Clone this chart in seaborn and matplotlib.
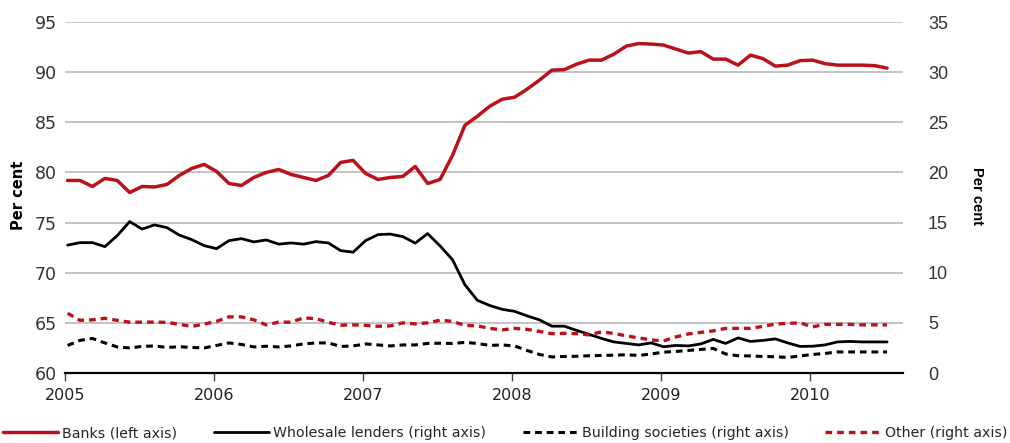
import numpy as np
import pandas as pd
import matplotlib
matplotlib.use("Agg")
import matplotlib.pyplot as plt
import seaborn as sns

# ---- data (monthly, Jan 2005 - Jul 2010) ----
years = [2005] * 12 + [2006] * 12 + [2007] * 12 + [2008] * 12 + [2009] * 12 + [2010] * 7
months = list(range(1, 13)) * 5 + list(range(1, 8))

banks = [79.2, 79.2, 78.6, 79.4, 79.2, 78.0, 78.6, 78.55, 78.8, 79.7, 80.4, 80.8, 80.1,
         78.9, 78.7, 79.5, 80.0, 80.3, 79.8, 79.5, 79.2, 79.7, 81.0, 81.2, 79.9,
         79.3, 79.5, 79.6, 80.6, 78.9, 79.3, 81.7, 84.7, 85.6, 86.6, 87.3, 87.5,
         88.3, 89.2, 90.2, 90.25, 90.8, 91.2, 91.2, 91.8, 92.6, 92.85, 92.8, 92.7,
         92.3, 91.9, 92.05, 91.3, 91.3, 90.7, 91.7, 91.35, 90.6, 90.7, 91.15, 91.2,
         90.85, 90.7, 90.7, 90.7, 90.65, 90.4]
wholesale = [12.75, 13.0, 13.0, 12.6, 13.7, 15.1, 14.35, 14.77, 14.5, 13.75, 13.3, 12.7, 12.4,
             13.2, 13.4, 13.07, 13.27, 12.85, 12.97, 12.85, 13.1, 12.97, 12.2, 12.05, 13.2,
             13.8, 13.85, 13.6, 12.95, 13.9, 12.67, 11.3, 8.8, 7.25, 6.73, 6.35, 6.15,
             5.7, 5.3, 4.67, 4.67, 4.25, 3.85, 3.45, 3.1, 2.95, 2.8, 3.0, 2.62,
             2.75, 2.7, 2.9, 3.35, 2.95, 3.5, 3.15, 3.25, 3.4, 3.0, 2.65, 2.67,
             2.8, 3.1, 3.15, 3.1, 3.1, 3.1]
building = [2.75, 3.25, 3.45, 3.0, 2.6, 2.5, 2.65, 2.7, 2.55, 2.62, 2.55, 2.5, 2.75,
            3.0, 2.85, 2.6, 2.67, 2.6, 2.7, 2.9, 3.0, 3.0, 2.65, 2.7, 2.9,
            2.8, 2.7, 2.8, 2.8, 2.95, 2.97, 2.95, 3.05, 2.95, 2.75, 2.8, 2.7,
            2.25, 1.85, 1.6, 1.65, 1.67, 1.72, 1.75, 1.78, 1.82, 1.75, 1.9, 2.08,
            2.15, 2.25, 2.35, 2.45, 1.9, 1.72, 1.7, 1.65, 1.62, 1.55, 1.7, 1.85,
            1.95, 2.1, 2.1, 2.1, 2.1, 2.1]
other = [5.95, 5.25, 5.3, 5.45, 5.25, 5.07, 5.07, 5.08, 5.05, 4.85, 4.65, 4.88, 5.15,
         5.6, 5.6, 5.3, 4.8, 5.07, 5.07, 5.5, 5.42, 5.05, 4.77, 4.8, 4.75,
         4.66, 4.7, 5.0, 4.9, 5.0, 5.27, 5.15, 4.75, 4.7, 4.45, 4.3, 4.45,
         4.35, 4.15, 3.92, 3.95, 3.93, 3.8, 4.1, 3.95, 3.7, 3.5, 3.3, 3.2,
         3.6, 3.9, 4.05, 4.2, 4.45, 4.45, 4.45, 4.65, 4.88, 4.95, 5.0, 4.6,
         4.85, 4.85, 4.85, 4.8, 4.8, 4.8]

year_ticks = [2005, 2006, 2007, 2008, 2009, 2010]
labels = ["Banks (left axis)", "Wholesale lenders (right axis)",
          "Building societies (right axis)", "Other (right axis)"]

df = pd.DataFrame({"year": years, "month": months, "banks": banks,
                   "wholesale": wholesale, "building": building, "other": other})
df["t"] = df["year"] + (df["month"] - 1) / 12 + 0.017

RED = "#bb111b"
sns.set_style("white")
plt.rcParams["font.family"] = ["DejaVu Sans"]

fig = plt.figure(figsize=(10.10, 4.43), dpi=100)
ax = fig.add_axes([0.0644, 0.158, 0.8297, 0.7923])
ax2 = ax.twinx()

# gridlines
ax.set_ylim(60, 95)
ax2.set_ylim(0, 35)
ax.set_yticks(range(60, 96, 5))
ax2.set_yticks(range(0, 36, 5))
ax.yaxis.grid(True, color="#b4b4b4", lw=1.1)
ax.set_axisbelow(True)

sns.lineplot(data=df, x="t", y="banks", ax=ax, color=RED, lw=2.5, legend=False)
sns.lineplot(data=df, x="t", y="wholesale", ax=ax2, color="black", lw=2.0, legend=False)
sns.lineplot(data=df, x="t", y="building", ax=ax2, color="black", lw=2.2, legend=False)
ax2.lines[-1].set_dashes([2.2, 1.6])
sns.lineplot(data=df, x="t", y="other", ax=ax2, color=RED, lw=2.4, legend=False)
ax2.lines[-1].set_dashes([2.0, 1.5])

ax.set_xlim(2005, 2005 + (903 - 65) / 149)
ax.set_xticks(year_ticks)
ax.set_xticklabels([str(y) for y in year_ticks], fontsize=11.5, color="#222222")
ax.tick_params(axis="x", direction="out", length=6, width=1, color="#444444", pad=5, bottom=True)
ax.tick_params(axis="y", length=0, pad=6, labelsize=12.5, labelcolor="#333333")
ax2.tick_params(axis="y", length=0, pad=18, labelsize=13, labelcolor="#333333")
for lab in ax2.get_yticklabels():
    lab.set_fontfamily("Liberation Sans")

for a in (ax, ax2):
    for s in ("left", "right", "top"):
        a.spines[s].set_visible(False)
ax2.spines["bottom"].set_visible(False)
ax.spines["bottom"].set_color("black")
ax.spines["bottom"].set_linewidth(1.6)

ax.set_xlabel("")
ax.set_ylabel("Per cent", fontsize=10.5, fontweight="bold", color="black")
ax.yaxis.set_label_coords(-0.047, 0.505)
ax2.set_ylabel("Per cent", fontsize=10.5, fontweight="bold", color="black", rotation=270,
               fontfamily="Liberation Sans")
ax2.yaxis.set_label_coords(1.097, 0.505)

handles = [ax.lines[0], ax2.lines[0], ax2.lines[1], ax2.lines[2]]
fig.legend(handles, labels, loc="lower left", bbox_to_anchor=(0.0, 0.0, 1.0, 0.06),
           mode="expand", ncol=4, frameon=False, fontsize=10.2, handlelength=3.9,
           handletextpad=0.3, borderaxespad=0.0, borderpad=0.2)

fig.savefig("out.png", dpi=100)
